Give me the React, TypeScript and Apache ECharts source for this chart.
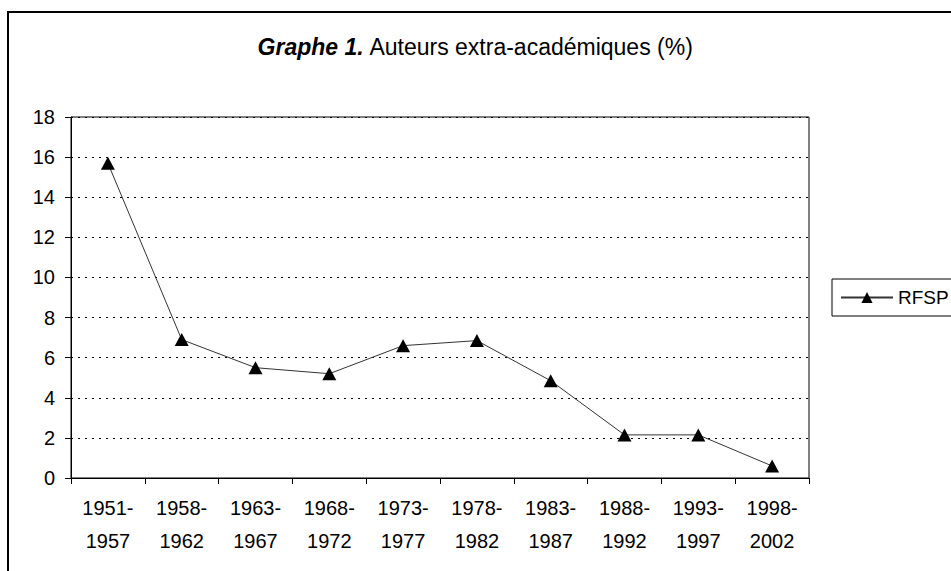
import React, { useEffect, useRef } from "react";
import * as echarts from "echarts";

const categories = [
  "1951-\n1957",
  "1958-\n1962",
  "1963-\n1967",
  "1968-\n1972",
  "1973-\n1977",
  "1978-\n1982",
  "1983-\n1987",
  "1988-\n1992",
  "1993-\n1997",
  "1998-\n2002",
];
const rfsp = [15.7, 6.9, 5.5, 5.2, 6.6, 6.85, 4.85, 2.15, 2.15, 0.6];
const seriesName = "RFSP";
const yMin = 0;
const yMax = 18;
const yInterval = 2;

const FONT = "'Liberation Sans', Arial, sans-serif";

export default function App() {
  const ref = useRef<HTMLDivElement>(null);
  useEffect(() => {
    if (!ref.current) return;
    const chart = echarts.init(ref.current, undefined, { renderer: "svg" });
    chart.setOption({
      animation: false,
      backgroundColor: "#ffffff",
      textStyle: { fontFamily: FONT, color: "#000" },
      title: {
        text: "{b|Graphe 1.} Auteurs extra-académiques (%)",
        left: "center",
        top: 30,
        textStyle: {
          fontFamily: FONT,
          fontSize: 23,
          fontWeight: "normal",
          color: "#000",
          rich: {
            b: { fontFamily: FONT, fontSize: 23, fontWeight: "bold", fontStyle: "italic", color: "#000" },
          },
        },
      },
      graphic: [
        {
          type: "rect",
          shape: { x: 8, y: 12, width: 1100, height: 1000 },
          style: { fill: "none", stroke: "#000", lineWidth: 2 },
          silent: true,
        },
      ],
      legend: {
        left: 832,
        top: 279,
        orient: "vertical",
        padding: [9, 30, 9, 8],
        borderColor: "#000",
        borderWidth: 1,
        itemWidth: 52,
        itemHeight: 14,
        textStyle: { fontFamily: FONT, fontSize: 19, color: "#000" },
        data: [seriesName],
      },
      grid: {
        left: 71,
        right: 142,
        top: 117,
        bottom: 93,
        show: true,
        borderColor: "#000",
        borderWidth: 1,
      },
      xAxis: {
        type: "category",
        data: categories,
        boundaryGap: true,
        axisLine: { lineStyle: { color: "#000", width: 1 } },
        axisTick: { show: true, alignWithLabel: false, length: 6, lineStyle: { color: "#000" } },
        axisLabel: {
          fontFamily: FONT,
          fontSize: 20,
          color: "#000",
          margin: 13,
          lineHeight: 33,
          interval: 0,
        },
        splitLine: { show: false },
      },
      yAxis: {
        type: "value",
        min: yMin,
        max: yMax,
        interval: yInterval,
        axisLine: { show: true, lineStyle: { color: "#000", width: 1 } },
        axisTick: { show: true, length: 6, lineStyle: { color: "#000" } },
        axisLabel: { fontFamily: FONT, fontSize: 20, color: "#000", margin: 16 },
        splitLine: { show: true, lineStyle: { color: "#000", type: [2, 5], width: 1 } },
      },
      series: [
        {
          name: seriesName,
          type: "line",
          data: rfsp,
          symbol: "triangle",
          symbolSize: [14, 13],
          itemStyle: { color: "#000" },
          lineStyle: { color: "#333", width: 1 },
        },
      ],
    });
    return () => chart.dispose();
  }, []);
  return (
    <div
      ref={ref}
      style={{ position: "fixed", left: 0, top: 0, width: 951, height: 571 }}
    />
  );
}
